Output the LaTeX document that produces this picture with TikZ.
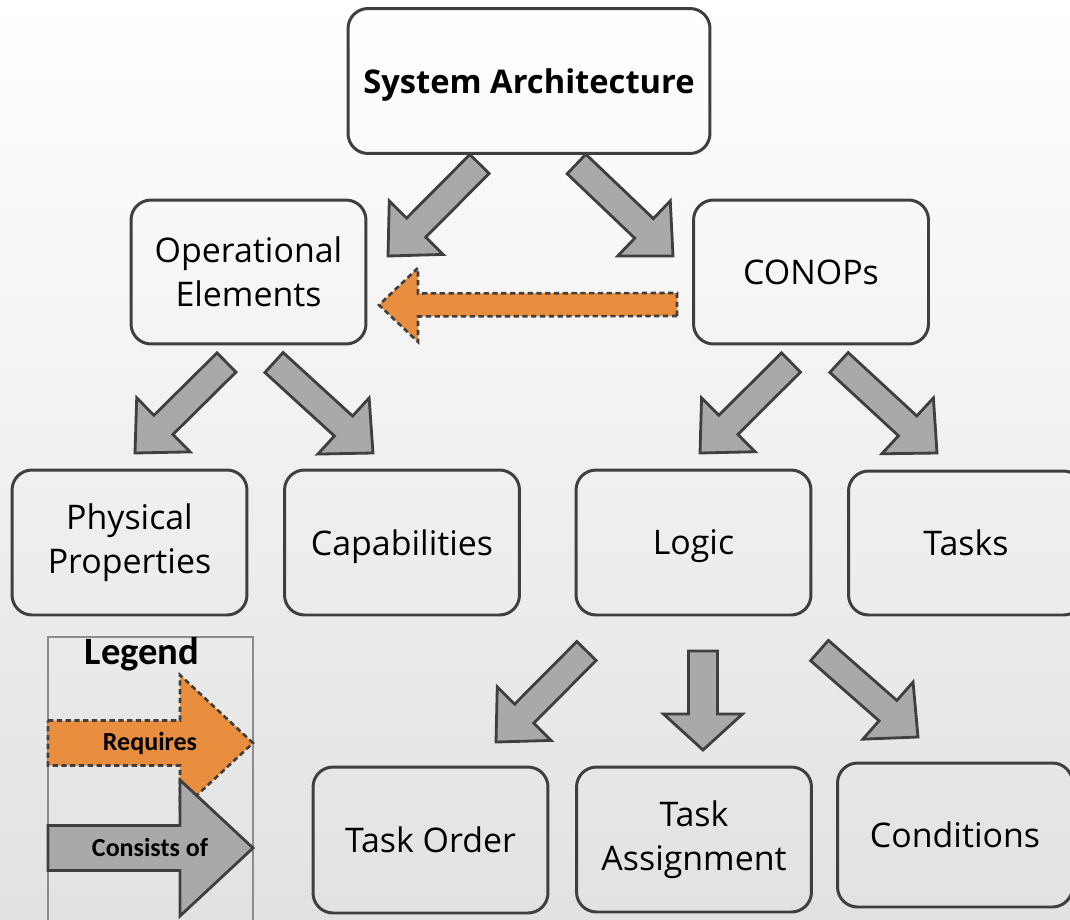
\documentclass[tikz,border=0pt]{standalone}
\usepackage{fontspec}
\setmainfont{Open Sans}
\newfontfamily\legendfont{Carlito}
\usetikzlibrary{calc}

\definecolor{edgegray}{HTML}{3F3F3F}
\definecolor{arrowgray}{HTML}{A9A9A9}
\definecolor{reqorange}{HTML}{E98E3F}

% block arrow: #1 style, #2 tail centre, #3 tip, #4 half shaft width,
% #5 half head width, #6 head length
\newcommand\blockarrow[6]{%
  \coordinate (ba-h) at ($(#3)!#6!(#2)$);
  \path[#1] ($(#2)!#4!90:(#3)$) -- ($(ba-h)!#4!90:(#3)$) -- ($(ba-h)!#5!90:(#3)$)
    -- (#3) -- ($(ba-h)!#5!-90:(#3)$) -- ($(ba-h)!#4!-90:(#3)$)
    -- ($(#2)!#4!-90:(#3)$) -- cycle;
}

\tikzset{
  box/.style={draw=edgegray, line width=1.7pt, rounded corners=0.4cm,
    align=center, inner sep=0pt, minimum width=4.7cm, minimum height=2.88cm,
    font=\fontsize{19.3}{25}\selectfont},
  consists/.style={draw=edgegray, fill=arrowgray, line width=1.6pt, line join=miter},
  requires/.style={draw=edgegray, fill=reqorange, line width=1.5pt,
    dash pattern=on 3pt off 2pt, line join=miter},
  legendtext/.style={font=\legendfont\fontsize{14.8}{16}\selectfont\bfseries},
}

\begin{document}
\begin{tikzpicture}[x=0.02cm, y=-0.02cm]
  \useasboundingbox (0,0) rectangle (1070,919);
  \clip (0,0) rectangle (1070,919);
  \shade[top color=white, bottom color=gray!23] (0,0) rectangle (1070,919);

  % concept boxes
  \node[box, minimum width=7.24cm, minimum height=2.9cm, text depth=0pt,
        font=\fontsize{18.6}{25}\selectfont\bfseries] (sa) at (529,81) {System Architecture};
  \node[box] (oe) at (248.5,272) {Operational\\Elements};
  \node[box] (conops) at (811,272) {CONOPs};
  \node[box, minimum height=2.9cm] (phys) at (129.5,542.5) {Physical\\Properties};
  \node[box, minimum height=2.9cm, text depth=0pt] (cap) at (402,542.5) {Capabilities};
  \node[box, minimum height=2.9cm, text depth=0pt] (logic) at (693.5,542.5) {Logic};
  \node[box, minimum height=2.88cm] (tasks) at (966,543) {Tasks};
  \node[box, minimum height=2.92cm] (order) at (430.5,840) {Task Order};
  \node[box, minimum height=2.9cm] (assign) at (694,839.5) {Task\\Assignment};
  \node[box, minimum height=2.88cm] (cond) at (955,835) {Conditions};

  % arrow end points
  \coordinate (sa-oe-a) at (479.5,164);   \coordinate (sa-oe-b) at (388,256);
  \coordinate (sa-co-a) at (576.5,164);   \coordinate (sa-co-b) at (673,256);
  \coordinate (co-oe-a) at (677,304.5);   \coordinate (co-oe-b) at (379,305);
  \coordinate (oe-ph-a) at (226.5,362.5); \coordinate (oe-ph-b) at (135,453);
  \coordinate (oe-ca-a) at (274,362.5);   \coordinate (oe-ca-b) at (373,453);
  \coordinate (co-lo-a) at (791,362.5);   \coordinate (co-lo-b) at (700,453);
  \coordinate (co-ta-a) at (839,362.5);   \coordinate (co-ta-b) at (937,453);
  \coordinate (lo-or-a) at (586.5,651);   \coordinate (lo-or-b) at (496,742);
  \coordinate (lo-as-a) at (703,651);     \coordinate (lo-as-b) at (703,750);
  \coordinate (lo-cd-a) at (819.5,650.5); \coordinate (lo-cd-b) at (918,737);

  % "consists of" arrows
  \blockarrow{consists}{sa-oe-a}{sa-oe-b}{0.27cm}{0.76cm}{0.8cm}
  \blockarrow{consists}{sa-co-a}{sa-co-b}{0.27cm}{0.76cm}{0.8cm}
  \blockarrow{consists}{oe-ph-a}{oe-ph-b}{0.27cm}{0.76cm}{0.8cm}
  \blockarrow{consists}{oe-ca-a}{oe-ca-b}{0.27cm}{0.76cm}{0.8cm}
  \blockarrow{consists}{co-lo-a}{co-lo-b}{0.27cm}{0.76cm}{0.8cm}
  \blockarrow{consists}{co-ta-a}{co-ta-b}{0.27cm}{0.76cm}{0.8cm}
  \blockarrow{consists}{lo-or-a}{lo-or-b}{0.27cm}{0.76cm}{0.8cm}
  \blockarrow{consists}{lo-as-a}{lo-as-b}{0.29cm}{0.79cm}{0.72cm}
  \blockarrow{consists}{lo-cd-a}{lo-cd-b}{0.27cm}{0.76cm}{0.8cm}

  % "requires" arrow
  \blockarrow{requires}{co-oe-a}{co-oe-b}{0.23cm}{0.74cm}{0.78cm}

  % legend
  \draw[gray!90, line width=0.6pt] (48,950) -- (48,637) -- (253,637) -- (253,950);
  \node[font=\legendfont\fontsize{22}{24}\selectfont\bfseries] (legend) at (142,654) {Legend};
  \coordinate (lg-req-a) at (48,743);  \coordinate (lg-req-b) at (253,743);
  \coordinate (lg-con-a) at (48,848);  \coordinate (lg-con-b) at (253,848);
  \blockarrow{requires}{lg-req-a}{lg-req-b}{0.45cm}{1.36cm}{1.46cm}
  \blockarrow{consists}{lg-con-a}{lg-con-b}{0.45cm}{1.36cm}{1.46cm}
  \node[legendtext] (req-label) at (150,743) {Requires};
  \node[legendtext] (con-label) at (150,847) {Consists of};
\end{tikzpicture}
\end{document}
